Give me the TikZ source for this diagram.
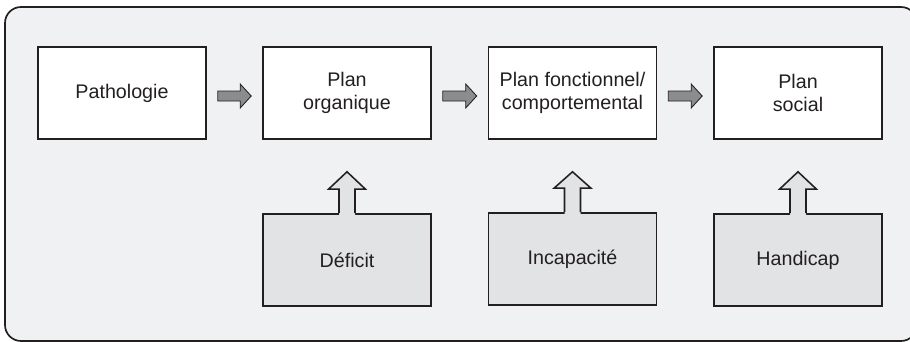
\documentclass[tikz,border=0pt]{standalone}
\usepackage{fontspec}
\setmainfont{Liberation Sans}
\usetikzlibrary{calc}
\definecolor{framebg}{RGB}{240,241,243}
\definecolor{lowbg}{RGB}{226,227,229}
\definecolor{arrowgray}{RGB}{140,140,140}
\definecolor{ink}{RGB}{35,31,32}

\begin{document}
\begin{tikzpicture}[x=0.025cm, y=-0.025cm,
    box/.style={draw=ink, line width=1.1pt, fill=white, minimum width=4.2cm, minimum height=2.3cm,
        align=center, text=ink, font=\fontsize{14}{16}\selectfont},
    lowbox/.style={box, fill=lowbg}]

    \useasboundingbox (0,0) rectangle (910,342);
    \clip (0,0) rectangle (910,342);
    \draw[ink, line width=1.2pt, fill=framebg, rounded corners=0.4cm] (5,7) rectangle (917,341);

    %top row
    \node[box] (patho)  at (122,93)   {Pathologie};
    \node[box] (organ)  at (347,93)   {Plan\\organique};
    \node[box] (fonct)  at (572.5,93) {Plan fonctionnel/\\comportemental};
    \node[box] (social) at (798,93)   {Plan\\social};
    %bottom row
    \node[lowbox] (deficit) at (347,260)   {Déficit};
    \node[lowbox] (incap)   at (572.5,259) {Incapacité};
    \node[lowbox] (handi)   at (798,260)   {Handicap};

    %right arrows
    \foreach \a/\b in {patho/organ, organ/fonct, fonct/social} {
        \draw[ink, line width=0.6pt, fill=arrowgray]
            ($(\a.east)+(11,-2)$) -- ($(\b.west)+(-22,-2)$) -- ($(\b.west)+(-22,-9)$)
            -- ($(\b.west)+(-11,3)$) -- ($(\b.west)+(-22,15)$) -- ($(\b.west)+(-22,8)$)
            -- ($(\a.east)+(11,8)$) -- cycle;
    }
    %up arrows
    \foreach \a/\b in {organ/deficit, fonct/incap, social/handi} {
        \fill[lowbg] ($(\b.north)+(-8,2.5)$) -- ($(\b.north)+(-8,-24)$) -- ($(\b.north)+(-18.5,-24)$)
            -- ($(\a.south)+(0,32)$) -- ($(\b.north)+(18.5,-24)$) -- ($(\b.north)+(8,-24)$)
            -- ($(\b.north)+(8,2.5)$) -- cycle;
        \draw[ink, line width=1.1pt, line join=miter] ($(\b.north)+(-8,0)$) -- ($(\b.north)+(-8,-24)$)
            -- ($(\b.north)+(-18.5,-24)$) -- ($(\a.south)+(0,32)$) -- ($(\b.north)+(18.5,-24)$)
            -- ($(\b.north)+(8,-24)$) -- ($(\b.north)+(8,0)$);
    }

\end{tikzpicture}
\end{document}
